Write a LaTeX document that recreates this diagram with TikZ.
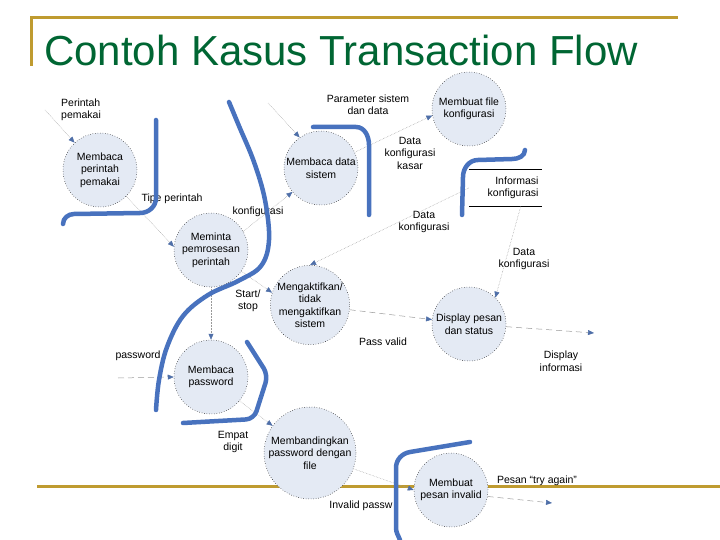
\documentclass[tikz,border=0pt]{standalone}
\usepackage{fontspec}
\setmainfont{Liberation Sans}
\usetikzlibrary{arrows.meta, positioning}
\definecolor{titlegreen}{RGB}{0,102,51}
\definecolor{rulegold}{RGB}{191,155,48}
\definecolor{penblue}{RGB}{72,114,190}
\definecolor{tipblue}{RGB}{79,111,168}
\definecolor{bubblefill}{RGB}{228,234,244}
\newcommand{\flowfont}{\fontsize{10.5}{12.5}\selectfont}

\begin{document}
\begin{tikzpicture}[x=1pt, y=-1pt,
  proc/.style={circle, draw=black, dotted, line width=0.5pt, fill=bubblefill,
    minimum size=74pt, inner sep=0pt, align=center, font=\flowfont},
  store/.style={minimum height=36pt, text width=66pt, inner xsep=3.5pt,
    align=right, font=\flowfont},
  note/.style={font=\flowfont, align=center, inner sep=1pt},
  flow/.style={draw=gray!80, densely dotted, line width=0.5pt,
    -{Triangle[length=6pt, width=5pt, color=tipblue]}},
  dashflow/.style={flow, dash pattern=on 6pt off 4pt},
  pen/.style={draw=penblue, line width=4.5pt, line cap=round, line join=round}]
  \useasboundingbox (0,0) rectangle (720,540);

  % Judul
  \draw[rulegold, line width=3pt] (31,66) -- (31,18) -- (678,18);
  \draw[rulegold, line width=3pt] (37,486) -- (720,486);
  \node[anchor=base west, inner sep=0, text=titlegreen,
    font=\fontsize{42}{48}\selectfont] (title) at (44,66) {Contoh Kasus Transaction Flow};

  % Proses
  \node[proc] (c1) at (100,170) {Membaca\\perintah\\pemakai};
  \node[proc] (c2) at (321,168) {Membaca data\\sistem};
  \node[proc] (c3) at (469,109) {Membuat file\\konfigurasi};
  \node[proc] (c4) at (211,250) {Meminta\\pemrosesan\\perintah};
  \node[proc] (c5) at (310,305) {Mengaktifkan/\\tidak\\mengaktifkan\\sistem};
  \node[proc] (c6) at (469,324) {Display pesan\\dan status};
  \node[proc] (c7) at (211,377) {Membaca\\password};
  \node[proc, minimum size=92pt] (c8) at (310,453) {Membandingkan\\password dengan\\file};
  \node[proc] (c9) at (451,490) {Membuat\\pesan invalid};

  % Penyimpanan
  \node[store] (info) at (505.5,188) {Informasi\\konfigurasi};
  \draw[line width=0.6pt] (info.north west) -- (info.north east)
    (info.south west) -- (info.south east);

  % Ujung bebas
  \coordinate (inperintah) at (45,110);
  \coordinate (inparam) at (268,103);
  \coordinate (inpass) at (118,378);
  \coordinate (outdisplay) at (594,333);
  \coordinate (outtry) at (552,503);

  % Aliran
  \draw[flow] (inperintah) -- (c1.133);
  \draw[flow] (inparam) -- (c2.125);
  \draw[flow] (c2.25) -- (c3.190);
  \draw[flow] (c1.-45) -- (c4.175);
  \draw[flow] (c4.30) -- (c2.220);
  \draw[flow] (info.west) -- (c5.north);
  \draw[flow] (info.-50) -- (c6.45);
  \draw[flow] (c4.-35) -- (c5.162);
  \draw[flow] (c4.south) -- (c7.north);
  \draw[dashflow] (c5) -- (c6);
  \draw[dashflow] (c6) -- (outdisplay);
  \draw[dashflow] (inpass) -- (c7.west);
  \draw[flow] (c7.-40) -- (c8.144);
  \draw[flow] (c8.-20) -- (c9.west);
  \draw[dashflow] (c9.-10) -- (outtry);

  % Label aliran
  \node[note, anchor=west, align=left] (lperintah) at (60,110) {Perintah\\pemakai};
  \node[note] (lparam) at (368,104.5) {Parameter sistem\\dan data};
  \node[note] (lkasar) at (410,153) {Data\\konfigurasi\\kasar};
  \node[note] (ltipe) at (172,199) {Tipe perintah};
  \node[note] (lkonf) at (258,212) {konfigurasi};
  \node[note] (ldata1) at (424,222) {Data\\konfigurasi};
  \node[note] (ldata2) at (524,259) {Data\\konfigurasi};
  \node[note] (lstart) at (248,301) {Start/\\stop};
  \node[note] (lvalid) at (383,342) {Pass valid};
  \node[note] (ldisplay) at (561,361) {Display\\informasi};
  \node[note] (lpass) at (138,356) {password};
  \node[note] (lempat) at (233,442) {Empat\\digit};
  \node[note] (linvalid) at (361,506) {Invalid passw};
  \node[note] (ltry) at (537,481) {Pesan “try again”};

  % Coretan
  \draw[pen] (156,120) -- (156,198) to[out=-90, in=0] (140,213) -- (74,214)
    to[out=180, in=90] (63,224);
  \draw[pen] plot[smooth, tension=0.6] coordinates {(229,102) (239,126) (254,162)
    (265,200) (269,240) (261,266) (238,281) (208,295) (183,316) (167,347)
    (159,380) (156,410)};
  \draw[pen] (313,127) -- (356,127) to[out=0, in=90] (369,145) -- (369,215);
  \draw[pen] (525,150) to[out=-90, in=0] (512,159) -- (478,160)
    to[out=180, in=90] (463,177) -- (462,215);
  \draw[pen, rounded corners=8pt] (247,342) -- (268,375) -- (254,419) -- (183,423);
  \draw[pen] (470,442) -- (410,452) to[out=190, in=90] (396,468) -- (396,528)
    to[out=-90, in=110] (400,540);
\end{tikzpicture}
\end{document}
